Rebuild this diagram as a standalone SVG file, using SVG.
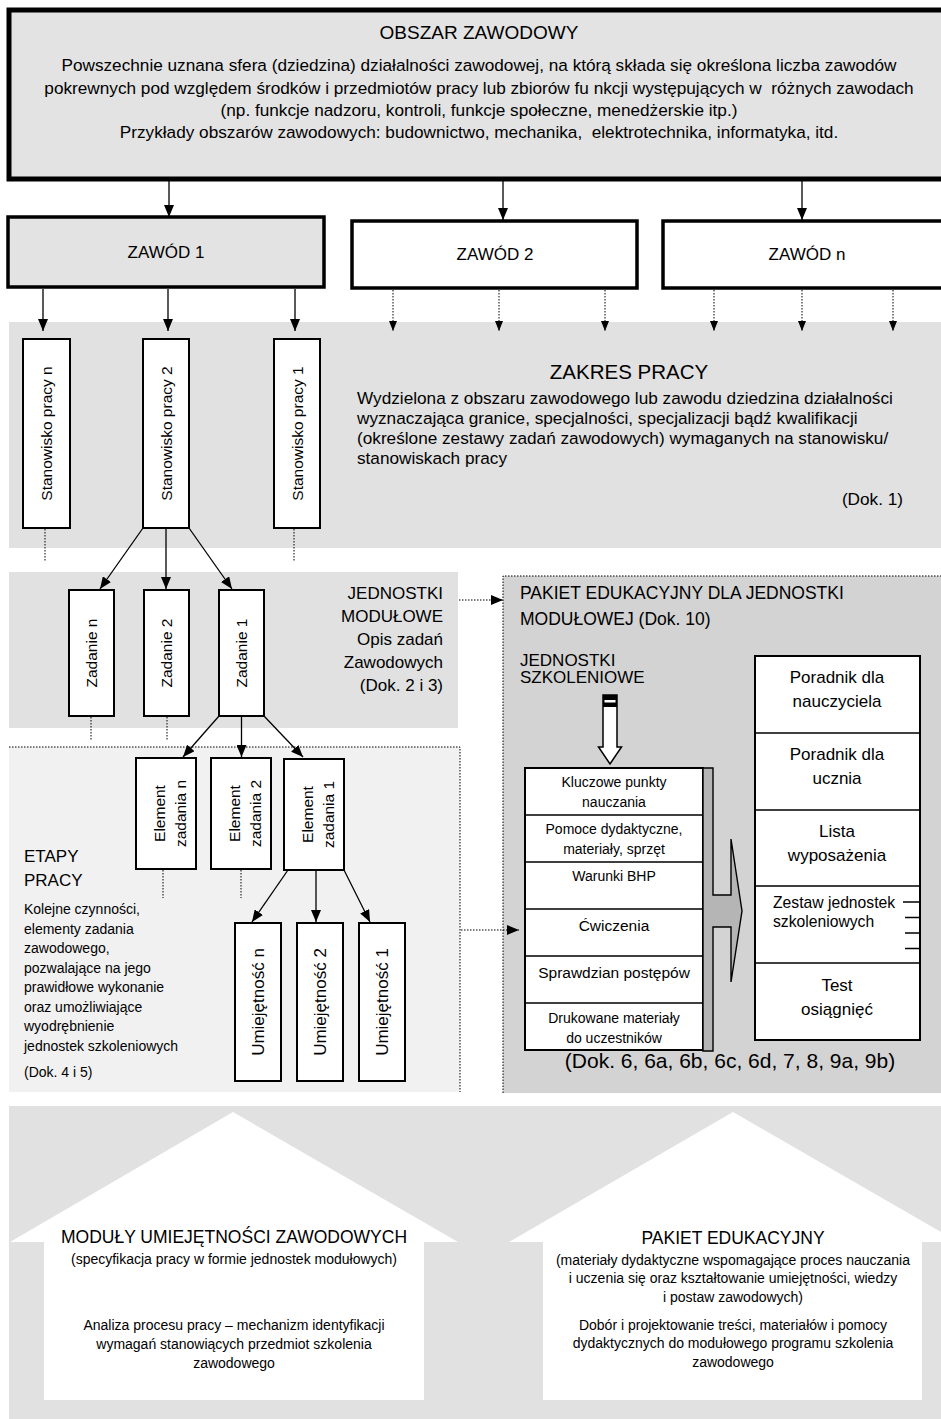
<svg xmlns="http://www.w3.org/2000/svg" width="941" height="1419" viewBox="0 0 941 1419">
<style>
  text { font-family: "Liberation Sans", Arial, sans-serif; fill: #000; }
  .c { text-anchor: middle; }
  .e { text-anchor: end; }
  .pre { white-space: pre; }
  .box { fill: #fff; stroke: #000; stroke-width: 2; }
  .ln { stroke: #000; stroke-width: 1.3; fill: none; }
  .dot { stroke: #000; stroke-width: 1; stroke-dasharray: 1.5 1.5; fill: none; }
  .f14 { font-size: 14px; }
  .f155 { font-size: 15.5px; }
  .f16 { font-size: 16px; }
  .f17 { font-size: 17px; }
  .f172 { font-size: 17.2px; }
  .f175 { font-size: 17.5px; }
</style>
<defs>
  <marker id="ah" viewBox="0 0 12 10" refX="12" refY="5" markerWidth="12" markerHeight="10" markerUnits="userSpaceOnUse" orient="auto">
    <path d="M0,0 L12,5 L0,10 z" fill="#000"/>
  </marker>
  <marker id="ahs" viewBox="0 0 10 8" refX="10" refY="4" markerWidth="10" markerHeight="8" markerUnits="userSpaceOnUse" orient="auto">
    <path d="M0,0 L10,4 L0,8 z" fill="#000"/>
  </marker>
</defs>

<rect width="941" height="1419" fill="#fff"/>

<!-- background zones -->
<g id="zones">
  <rect x="9" y="322" width="932" height="226" fill="#e1e1e1"/>
  <rect x="9" y="572" width="449" height="156" fill="#e1e1e1"/>
  <rect x="9" y="747" width="451" height="345" fill="#f1f1f1"/>
  <path class="dot" d="M9,747 H460 V1092"/>
  <rect x="503" y="576" width="438" height="517" fill="#d3d3d3"/>
  <path class="dot" d="M503,1093 V576 H941"/>
  <rect x="9" y="1106" width="932" height="313" fill="#e1e1e1"/>
</g>

<!-- top: occupational area -->
<g id="obszar">
  <rect x="9" y="10" width="945" height="169" fill="#e3e3e3" stroke="#000" stroke-width="5"/>
  <text x="479" y="39" class="c" font-size="19">OBSZAR ZAWODOWY</text>
  <text x="479" y="71" class="c f172">Powszechnie uznana sfera (dziedzina) działalności zawodowej, na którą składa się określona liczba zawodów</text>
  <text x="479" y="93.5" class="c f172 pre">pokrewnych pod względem środków i przedmiotów pracy lub zbiorów fu nkcji występujących w  różnych zawodach</text>
  <text x="479" y="116" class="c f172">(np. funkcje nadzoru, kontroli, funkcje społeczne, menedżerskie itp.)</text>
  <text x="479" y="138" class="c f172 pre">Przykłady obszarów zawodowych: budownictwo, mechanika,  elektrotechnika, informatyka, itd.</text>
</g>

<!-- occupations -->
<g id="zawod1">
  <rect x="8" y="217" width="316" height="70" fill="#e3e3e3" stroke="#000" stroke-width="3.5"/>
  <text x="166" y="258" class="c f17">ZAWÓD 1</text>
</g>
<g id="zawod2">
  <rect x="352" y="221" width="285" height="67" fill="#fff" stroke="#000" stroke-width="3.5"/>
  <text x="495" y="260" class="c f17">ZAWÓD 2</text>
</g>
<g id="zawodn">
  <rect x="663" y="221" width="290" height="67" fill="#fff" stroke="#000" stroke-width="3.5"/>
  <text x="807" y="260" class="c f17">ZAWÓD n</text>
</g>

<!-- scope of work -->
<g id="zakres">
  <text x="629" y="379" class="c" font-size="20.5">ZAKRES PRACY</text>
  <text x="357" y="404" class="f172">Wydzielona z obszaru zawodowego lub zawodu dziedzina działalności</text>
  <text x="357" y="424" class="f172">wyznaczająca granice, specjalności, specjalizacji bądź kwalifikacji</text>
  <text x="357" y="444" class="f172">(określone zestawy zadań zawodowych) wymaganych na stanowisku/</text>
  <text x="357" y="464" class="f172">stanowiskach pracy</text>
  <text x="903" y="505" class="e f172">(Dok. 1)</text>
</g>

<g id="stanowisko-n">
  <rect class="box" x="23" y="339" width="47" height="189"/>
  <text transform="translate(52,433.5) rotate(-90)" class="c f155">Stanowisko pracy n</text>
</g>
<g id="stanowisko-2">
  <rect class="box" x="143" y="339" width="46" height="189"/>
  <text transform="translate(172,433.5) rotate(-90)" class="c f155">Stanowisko pracy 2</text>
</g>
<g id="stanowisko-1">
  <rect class="box" x="274" y="339" width="46" height="189"/>
  <text transform="translate(303,433.5) rotate(-90)" class="c f155">Stanowisko pracy 1</text>
</g>

<!-- modular units -->
<g id="jednostki-modulowe">
  <text x="443" y="599" class="e f17">JEDNOSTKI</text>
  <text x="443" y="622" class="e f17">MODUŁOWE</text>
  <text x="443" y="645" class="e f17">Opis zadań</text>
  <text x="443" y="668" class="e f17">Zawodowych</text>
  <text x="443" y="691" class="e f17">(Dok. 2 i 3)</text>
</g>
<g id="zadanie-n">
  <rect class="box" x="69" y="590" width="45" height="126"/>
  <text transform="translate(97,653) rotate(-90)" class="c f155">Zadanie n</text>
</g>
<g id="zadanie-2">
  <rect class="box" x="144" y="590" width="45" height="126"/>
  <text transform="translate(172,653) rotate(-90)" class="c f155">Zadanie 2</text>
</g>
<g id="zadanie-1">
  <rect class="box" x="219" y="590" width="45" height="126"/>
  <text transform="translate(247,653) rotate(-90)" class="c f155">Zadanie 1</text>
</g>

<!-- work stages -->
<g id="etapy">
  <text x="24" y="862" class="f17">ETAPY</text>
  <text x="24" y="886" class="f17">PRACY</text>
  <text x="24" y="914" class="f14">Kolejne czynności,</text>
  <text x="24" y="933.5" class="f14">elementy zadania</text>
  <text x="24" y="953" class="f14">zawodowego,</text>
  <text x="24" y="972.5" class="f14">pozwalające na jego</text>
  <text x="24" y="992" class="f14">prawidłowe wykonanie</text>
  <text x="24" y="1011.5" class="f14">oraz umożliwiające</text>
  <text x="24" y="1031" class="f14">wyodrębnienie</text>
  <text x="24" y="1050.5" class="f14">jednostek szkoleniowych</text>
  <text x="24" y="1077" class="f14">(Dok. 4 i 5)</text>
</g>
<g id="element-n">
  <rect class="box" x="136" y="758" width="60" height="111"/>
  <text transform="translate(165,813.5) rotate(-90)" class="c f155"><tspan x="0" y="0">Element</tspan><tspan x="0" y="21">zadania n</tspan></text>
</g>
<g id="element-2">
  <rect class="box" x="211" y="758" width="60" height="111"/>
  <text transform="translate(240,813.5) rotate(-90)" class="c f155"><tspan x="0" y="0">Element</tspan><tspan x="0" y="21">zadania 2</tspan></text>
</g>
<g id="element-1">
  <rect class="box" x="284" y="759" width="60" height="111"/>
  <text transform="translate(313,814.5) rotate(-90)" class="c f155"><tspan x="0" y="0">Element</tspan><tspan x="0" y="21">zadania 1</tspan></text>
</g>
<g id="umiejetnosc-n">
  <rect class="box" x="235" y="923" width="46" height="158"/>
  <text transform="translate(264,1002) rotate(-90)" class="c f17">Umiejętność n</text>
</g>
<g id="umiejetnosc-2">
  <rect class="box" x="297" y="923" width="46" height="158"/>
  <text transform="translate(326,1002) rotate(-90)" class="c f17">Umiejętność 2</text>
</g>
<g id="umiejetnosc-1">
  <rect class="box" x="359" y="923" width="46" height="158"/>
  <text transform="translate(388,1002) rotate(-90)" class="c f17">Umiejętność 1</text>
</g>

<!-- educational package -->
<g id="pakiet">
  <text x="520" y="599" class="f175">PAKIET EDUKACYJNY DLA JEDNOSTKI</text>
  <text x="520" y="625" class="f175">MODUŁOWEJ (Dok. 10)</text>
  <text x="520" y="666" class="f17">JEDNOSTKI</text>
  <text x="520" y="683" class="f17">SZKOLENIOWE</text>
  <text x="730" y="1068" class="c" font-size="21">(Dok. 6, 6a, 6b, 6c, 6d, 7, 8, 9a, 9b)</text>
</g>

<g id="strzalka-szkoleniowe">
  <path d="M603,695 H617 V747 H621.5 L610,764 L598.5,747 H603 Z" fill="#fff" stroke="#000" stroke-width="1.5"/>
  <rect x="603" y="695" width="14" height="12" fill="#000"/>
  <rect x="604.5" y="700" width="11" height="2.5" fill="#fff"/>
</g>

<g id="jednostki-szkoleniowe">
  <rect class="box" x="525" y="768" width="178" height="282" stroke-width="1.6"/>
  <path class="ln" stroke-width="1.6" d="M525,815 H703 M525,862 H703 M525,909 H703 M525,956 H703 M525,1003 H703"/>
  <text x="614" y="787" class="c f14">Kluczowe punkty</text>
  <text x="614" y="806.5" class="c f14">nauczania</text>
  <text x="614" y="834" class="c f14">Pomoce dydaktyczne,</text>
  <text x="614" y="853.5" class="c f14">materiały, sprzęt</text>
  <text x="614" y="881" class="c f14">Warunki BHP</text>
  <text x="614" y="931" class="c f155">Ćwiczenia</text>
  <text x="614" y="978" class="c f155">Sprawdzian postępów</text>
  <text x="614" y="1023" class="c f14">Drukowane materiały</text>
  <text x="614" y="1042.5" class="c f14">do uczestników</text>
</g>

<g id="strzalka-pakiet">
  <path d="M703,768 H713 V895 H731 V839 L742,911 L731,982 V927 H713 V1051 H703 Z" fill="#b5b5b5" stroke="#000" stroke-width="1.4"/>
</g>

<g id="materialy">
  <rect class="box" x="755" y="656" width="165" height="384"/>
  <path class="ln" stroke-width="2" d="M755,733 H920 M755,810 H920 M755,886 H920 M755,963 H920"/>
  <text x="837" y="683" class="c f17">Poradnik dla</text>
  <text x="837" y="707" class="c f17">nauczyciela</text>
  <text x="837" y="760" class="c f17">Poradnik dla</text>
  <text x="837" y="784" class="c f17">ucznia</text>
  <text x="837" y="837" class="c f17">Lista</text>
  <text x="837" y="861" class="c f17">wyposażenia</text>
  <text x="773" y="908" font-size="15.7">Zestaw jednostek</text>
  <text x="773" y="927" font-size="15.7">szkoleniowych</text>
  <path class="ln" d="M903,902 H920 M905,917.5 H920 M905,933 H920 M905,948.5 H920"/>
  <text x="837" y="991" class="c f17">Test</text>
  <text x="837" y="1015" class="c f17">osiągnięć</text>
</g>

<!-- summary houses -->
<g id="dom-moduly">
  <polygon points="233,1112 458,1242 424,1242 424,1400 44,1400 44,1242 10,1242" fill="#fff"/>
  <text x="234" y="1243" class="c f175">MODUŁY UMIEJĘTNOŚCI ZAWODOWYCH</text>
  <text x="234" y="1264" class="c f14">(specyfikacja pracy w formie jednostek modułowych)</text>
  <text x="234" y="1330" class="c f14">Analiza procesu pracy – mechanizm identyfikacji</text>
  <text x="234" y="1349" class="c f14">wymagań stanowiących przedmiot szkolenia</text>
  <text x="234" y="1368" class="c f14">zawodowego</text>
</g>
<g id="dom-pakiet">
  <polygon points="733,1112 941,1232 941,1242 922,1242 922,1400 543,1400 543,1242 509,1242" fill="#fff"/>
  <text x="733" y="1244" class="c f175">PAKIET EDUKACYJNY</text>
  <text x="733" y="1265" class="c f14">(materiały dydaktyczne wspomagające proces nauczania</text>
  <text x="733" y="1283" class="c f14">i uczenia się oraz kształtowanie umiejętności, wiedzy</text>
  <text x="733" y="1302" class="c f14">i postaw zawodowych)</text>
  <text x="733" y="1330" class="c f14">Dobór i projektowanie treści, materiałów i pomocy</text>
  <text x="733" y="1348" class="c f14">dydaktycznych do modułowego programu szkolenia</text>
  <text x="733" y="1367" class="c f14">zawodowego</text>
</g>

<!-- connectors -->
<g id="connectors">
  <path class="ln" marker-end="url(#ah)" d="M169,181 V217"/>
  <path class="ln" marker-end="url(#ah)" d="M503,181 V220"/>
  <path class="ln" marker-end="url(#ah)" d="M802,181 V220"/>

  <path class="ln" marker-end="url(#ah)" d="M43,289 V331"/>
  <path class="ln" marker-end="url(#ah)" d="M168,289 V331"/>
  <path class="ln" marker-end="url(#ah)" d="M295,289 V331"/>

  <path class="dot" marker-end="url(#ahs)" d="M393,290 V331"/>
  <path class="dot" marker-end="url(#ahs)" d="M499,290 V331"/>
  <path class="dot" marker-end="url(#ahs)" d="M605,290 V331"/>
  <path class="dot" marker-end="url(#ahs)" d="M714,290 V331"/>
  <path class="dot" marker-end="url(#ahs)" d="M802,290 V331"/>
  <path class="dot" marker-end="url(#ahs)" d="M893,290 V331"/>

  <path class="dot" d="M45,529 V561 M294,529 V561"/>
  <path class="ln" marker-end="url(#ah)" d="M143,528 L100,589"/>
  <path class="ln" marker-end="url(#ah)" d="M166,528 V589"/>
  <path class="ln" marker-end="url(#ah)" d="M189,528 L232,589"/>

  <path class="dot" d="M91,717 V741 M167,717 V741"/>
  <path class="ln" marker-end="url(#ah)" d="M219,716 L183,757"/>
  <path class="ln" marker-end="url(#ah)" d="M241.5,716 V757"/>
  <path class="ln" marker-end="url(#ah)" d="M264,716 L303,757"/>

  <path class="dot" d="M163,870 V898 M241,870 V898"/>
  <path class="ln" marker-end="url(#ah)" d="M288,870 L252,922"/>
  <path class="ln" marker-end="url(#ah)" d="M316,870 V922"/>
  <path class="ln" marker-end="url(#ah)" d="M344,870 L370,922"/>

  <path class="dot" marker-end="url(#ah)" d="M459,600 H503"/>
  <path class="dot" marker-end="url(#ah)" d="M461,930 H519"/>
</g>
</svg>
